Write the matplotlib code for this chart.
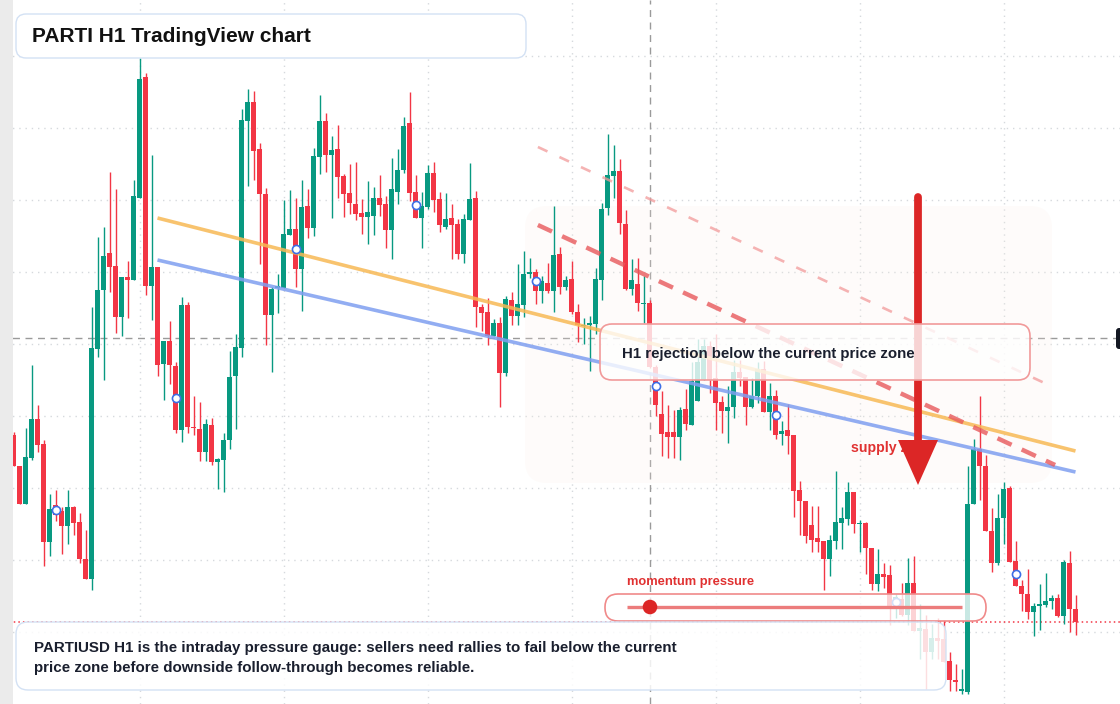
import numpy as np
import matplotlib
matplotlib.use("Agg")
import matplotlib.pyplot as plt
from matplotlib.patches import FancyBboxPatch, Rectangle, Polygon

plt.rcParams['font.family'] = ['Liberation Sans', 'DejaVu Sans']

# ---------------- data (price levels in chart units; axis is drawn inverted) ----------------
open_ = [435, 466, 503.5, 457.7, 418.8, 444, 542, 505, 511, 525.6,
         507, 522, 559, 579, 348.6, 289.7, 252.8, 266, 316.5, 277,
         279.7, 197.7, 76.5, 285.5, 267, 363.7, 341, 365.8, 429.5, 304.5,
         426.5, 428.5, 451.5, 425, 462.2, 459.5, 439.5, 376, 347.5, 121,
         102, 148.5, 194.3, 314.8, 288, 288, 235, 229, 268.7, 206,
         228, 156.8, 121, 154.7, 148.8, 176, 193, 204, 213, 216.7,
         215.6, 198, 204, 229.8, 191.5, 170, 123, 192, 217.7, 207.4,
         173, 199, 227, 218, 224, 253.5, 220, 198, 306.6, 312,
         335.5, 323.4, 372.7, 300, 315.5, 304.5, 274.2, 272, 290.7, 283,
         291.4, 254, 286.6, 279, 312, 326, 324.5, 323.8, 279.8, 207.8,
         175.8, 171.3, 224, 289.4, 284, 304.2, 302.5, 367, 414, 432,
         432, 436.8, 409, 424.7, 400.6, 379.6, 346, 378, 402, 410.6,
         406.5, 372, 377, 406.5, 395.5, 369, 411.6, 396, 433.7, 430,
         434.8, 490.3, 500.5, 525.3, 538, 540.5, 559.2, 541, 522.8, 518.5,
         492, 523.9, 522.8, 547.5, 584, 574, 575, 607.6, 598.8, 614.7,
         583, 630.6, 628.8, 651.8, 638, 639.4, 660.6, 680, 691, 692.4,
         504.4, 448.6, 466.3, 530.6, 562.7, 518, 487.5, 561, 586.4, 593.5,
         612, 605.8, 604.8, 601, 598, 615.7, 562.7, 608.7]
high_ = [432, 466, 428, 365, 405, 440, 494, 490, 507, 490,
         506, 513, 530, 307, 237, 227, 172, 189, 277, 261,
         180, 58, 73, 155, 267, 341, 321, 362, 297, 302,
         396, 402, 419, 418, 457.7, 433, 351, 334, 109, 89,
         91, 142.6, 188, 287, 273.5, 200, 190, 198, 180, 189,
         148, 95, 113.4, 136.4, 125.4, 173.6, 164, 162, 199, 181,
         187, 175, 196, 158, 148.8, 117, 92, 174.7, 192, 165,
         162, 192, 193, 204, 219, 214, 162.6, 191, 303.8, 297.6,
         319, 316.5, 296, 292, 264, 251, 258, 268.7, 276, 263,
         206, 247, 276, 260.8, 303.8, 317.6, 316, 267.7, 202.6, 133.7,
         144.8, 158.5, 209.5, 259, 258.4, 275.6, 299.7, 365, 391, 404.8,
         410, 406.5, 388.6, 361.7, 339.3, 339, 341, 334, 395.5, 385.8,
         360, 360, 377, 378, 361.7, 361, 383, 390, 421, 404.4,
         434.8, 481, 500.5, 506, 506, 540.5, 535, 470.8, 507, 482,
         492, 520, 522, 547.5, 549.3, 562.7, 565, 593.5, 583, 558,
         556.4, 604, 614.7, 623.5, 618, 620, 651.8, 664, 669, 465.6,
         439, 395.6, 455, 507.6, 493.8, 482, 486, 540.5, 580, 568.7,
         603, 584, 573, 594.5, 593.5, 560, 551, 594.5]
low_ = [466, 504, 504, 459.5, 451.5, 565.5, 556, 521, 553.5, 544,
        534.5, 563, 579, 590, 357, 380, 292, 333, 335.5, 317.6,
        280, 198, 295, 319.6, 375.8, 400, 383.7, 432.6, 441.5, 432.6,
        434.7, 461, 460.5, 464.6, 488.7, 492, 449, 428.5, 357, 186,
        180, 264, 345, 371.6, 313, 288, 235, 286.6, 310.7, 237.7,
        235.6, 173.6, 172, 217.7, 197.7, 216.7, 213.6, 219.8, 234, 243.5,
        234.6, 215.6, 247.7, 259, 204, 173, 201, 218, 247.7, 208.8,
        211.5, 231.5, 228.7, 259, 259, 262.5, 220, 327, 331.3, 345,
        336, 406.8, 375.8, 324.5, 324.5, 316.5, 277.6, 303.8, 302.8, 292.8,
        312.4, 294, 290, 314, 341.7, 344, 371.3, 334, 299.7, 214.7,
        198, 233.6, 290, 294.6, 310.7, 323, 368, 416, 456, 458,
        458, 460, 430, 425, 401, 380, 393, 430, 433, 442.6,
        417.5, 385.8, 425.4, 408, 403, 412, 430, 439, 445, 454,
        517, 534.5, 543, 552, 552, 590, 575.8, 548.6, 548.6, 524.6,
        533.4, 552, 574, 590, 591, 588, 625, 618, 615.7, 625,
        631, 659, 689, 659, 659, 662.4, 690.6, 691.3, 694, 694,
        504.4, 499.8, 531, 572, 565, 544, 562, 586.4, 611, 619,
        636, 630, 606.5, 609.4, 617, 623.5, 632.3, 634.8]
close_ = [466, 503.5, 457, 418.8, 444.6, 542, 509.4, 515, 525.6, 507,
          522.5, 559, 579, 348, 290, 256.3, 266.6, 316.5, 277, 279.7,
          196, 79, 286, 267, 364.8, 341, 364.8, 429.5, 304.5, 426.7,
          428, 451.5, 424, 462, 458.8, 439.5, 376.8, 346.8, 120.3, 102,
          150.6, 194.3, 314.8, 289, 286, 234, 229, 268.7, 207.4, 228,
          156, 121, 154.7, 150.2, 177, 193.6, 202.6, 213.6, 216.7, 212,
          198, 204.6, 229.8, 189, 169.5, 126, 192.6, 217.7, 206, 173,
          199.8, 224.6, 219, 224.6, 253.5, 219, 199, 307.2, 313, 335.5,
          323.4, 372.7, 299, 315.5, 304, 273.8, 272, 290.7, 281, 291.4,
          255, 286.6, 280.4, 312, 324.5, 324.5, 323, 279, 208.5, 175,
          171.3, 223.3, 289.4, 279.8, 303, 302.5, 367, 405, 434, 436.8,
          437, 410, 423.7, 380.6, 361.7, 346, 380, 403, 410.6, 407,
          372, 378, 406.5, 395.5, 369, 411.6, 396, 434.8, 431, 435.5,
          491, 500.5, 535.9, 539.8, 541.5, 559.2, 539.8, 521.7, 518, 492,
          523.9, 522.8, 547.5, 584, 574, 577, 609.4, 597, 614.7, 583,
          630.6, 627.7, 651.8, 638, 641, 662.4, 680, 681.8, 689, 504,
          448.6, 466.3, 530.6, 562.7, 518, 488.5, 561.7, 586.4, 593.5, 612,
          605.8, 604, 600.5, 598, 615.7, 561.7, 608.7, 621.7]

# trend lines: (candle index, price level)
orange_x, orange_y = [24, 177], [218, 451]
blue_x, blue_y = [24, 177], [260, 472]
res_thick_x, res_thick_y = [87.4, 173.6], [225, 465]
res_thin_x, res_thin_y = [87.4, 172.9], [147, 386]
marker_start, marker_step = 7, 20
crosshair_index, crosshair_price = 106, 338
session_start, session_len = 21, 24
grid_levels = [56, 128, 200, 272, 344, 416, 488, 560, 632]

title = "PARTI H1 TradingView chart"
note_text = "H1 rejection below the current price zone"
zone_label = "supply zone"
momentum_label = "momentum pressure"
footer_lines = ["PARTIUSD H1 is the intraday pressure gauge: sellers need rallies to fail below the current",
                "price zone before downside follow-through becomes reliable."]

GREEN, RED = "#089981", "#f23645"

# ---------------- figure ----------------
W, H = 1120, 704
fig = plt.figure(figsize=(W / 100, H / 100), dpi=100)
ax = fig.add_axes([0, 0, 1, 1])
ax.axis('off')

def X(px):
    return (px - 13.5) / 6.0

ax.set_xlim(X(0), X(W))
ax.set_ylim(H, 0)

def rbox(x0, y0, x1, y1, r, zorder, **kw):
    p = FancyBboxPatch((X(x0), y0), X(x1) - X(x0), y1 - y0,
                       boxstyle=f"round,pad=0,rounding_size={r / 6.0}",
                       mutation_aspect=6.0, zorder=zorder, **kw)
    ax.add_patch(p)
    return p

# grid
for g in grid_levels:
    ax.axhline(g, color="#d6d9dd", lw=1.0, ls=(0, (1, 3.5)), zorder=0)
for k in range(7):
    ax.axvline(session_start + session_len * k, color="#d6d9dd", lw=1.0, ls=(0, (1, 3.5)), zorder=0)

# crosshair
ax.axhline(crosshair_price, color="#9a9a9a", lw=1.0, ls=(0, (5, 4)), zorder=0.5)
ax.axvline(crosshair_index, color="#9a9a9a", lw=1.0, ls=(0, (5, 4)), zorder=0.5)

# shaded zone
rbox(525, 206, 1052, 483, 22, 0.8, facecolor="#fbeee6", edgecolor="none", alpha=0.2)

# candles
o = np.array(open_); c = np.array(close_); hi = np.array(high_); lo = np.array(low_)
idx = np.arange(len(o))
up = c < o
cols = np.where(up, GREEN, RED)
ax.vlines(idx, hi, lo, colors=cols, lw=1.0, zorder=2)
body_bottom = np.minimum(o, c)
body_h = np.maximum(np.abs(c - o), 1.2)
ax.bar(idx, body_h, bottom=body_bottom, width=0.72, color=cols, edgecolor="none", zorder=2.1)

# trend lines
ax.plot(orange_x, orange_y, color="#f7b955", lw=2.6, alpha=0.85, zorder=3, solid_capstyle='butt')
ax.plot(blue_x, blue_y, color="#7f9ff0", lw=2.6, alpha=0.85, zorder=3, solid_capstyle='butt')
ax.plot(res_thick_x, res_thick_y, color="#e8595c", lw=3.2, alpha=0.8, ls=(0, (3.5, 2.5)), zorder=3)
ax.plot(res_thin_x, res_thin_y, color="#f29a9a", lw=1.9, alpha=0.75, ls=(0, (4, 5)), zorder=3)

# current price line
ax.axhline(close_[-1], color="#f23645", lw=1.1, ls=(0, (1, 2)), zorder=1.5)

# markers at body midpoints
mi = idx[marker_start::marker_step]
ax.scatter(mi, (o[mi] + c[mi]) / 2, s=34, facecolor="white", edgecolor="#3d6fe6", lw=1.2, zorder=4)

# supply zone label and arrow
ax.text(X(851), 448, zone_label, color="#e03131", fontsize=10.2, fontweight="bold",
        va="center", ha="left", zorder=5)
ax.plot([X(918), X(918)], [197, 445], color="#dc2626", lw=5.6, solid_capstyle="round", zorder=6)
ax.add_patch(Polygon([(X(898), 440), (X(938), 440), (X(918), 485)], closed=True,
                     facecolor="#dc2626", edgecolor="none", zorder=6))

# annotation box
rbox(600, 324, 1030, 380, 12, 7, facecolor=(1, 1, 1, 0.8), edgecolor="#f19a9a", lw=1.2)
ax.text(X(622), 354, note_text, color="#1a1f2e", fontsize=10.8, fontweight="bold",
        va="center", ha="left", zorder=7.5)

# momentum gauge
ax.text(X(627), 582, momentum_label, color="#e03131", fontsize=9.3, fontweight="bold",
        va="center", ha="left", zorder=8)
rbox(605, 594, 986, 621, 13, 8, facecolor=(1, 1, 1, 0.78), edgecolor="#f08a8a", lw=1.2)
ax.plot([X(627), X(962)], [607, 607], color="#ec7c7c", lw=2.4, zorder=8.2, solid_capstyle='butt')
ax.scatter([X(650)], [607], s=110, color="#dc2626", zorder=8.4, edgecolor="none")

# footer box
rbox(16, 622, 946, 690, 12, 9, facecolor=(1, 1, 1, 0.84), edgecolor="#d3e1f4", lw=1.0)
for line, yy in zip(footer_lines, [648, 668]):
    ax.text(X(34), yy, line, color="#1a1f2e", fontsize=10.9, fontweight="bold",
            va="center", ha="left", zorder=9.5)

# title box
rbox(16, 14, 526, 58, 10, 10, facecolor="white", edgecolor="#d3e1f4", lw=1.0)
ax.text(X(32), 36, title, color="#111111", fontsize=15, fontweight="bold",
        va="center", ha="left", zorder=10.5)

# left strip and right price tag
ax.add_patch(Rectangle((X(0), 0), X(13) - X(0), H, facecolor="#ebebeb", edgecolor="none", zorder=11))
rbox(1116, 328, 1130, 349, 3, 11, facecolor="#131722", edgecolor="none")

fig.savefig("out.png", dpi=100)
